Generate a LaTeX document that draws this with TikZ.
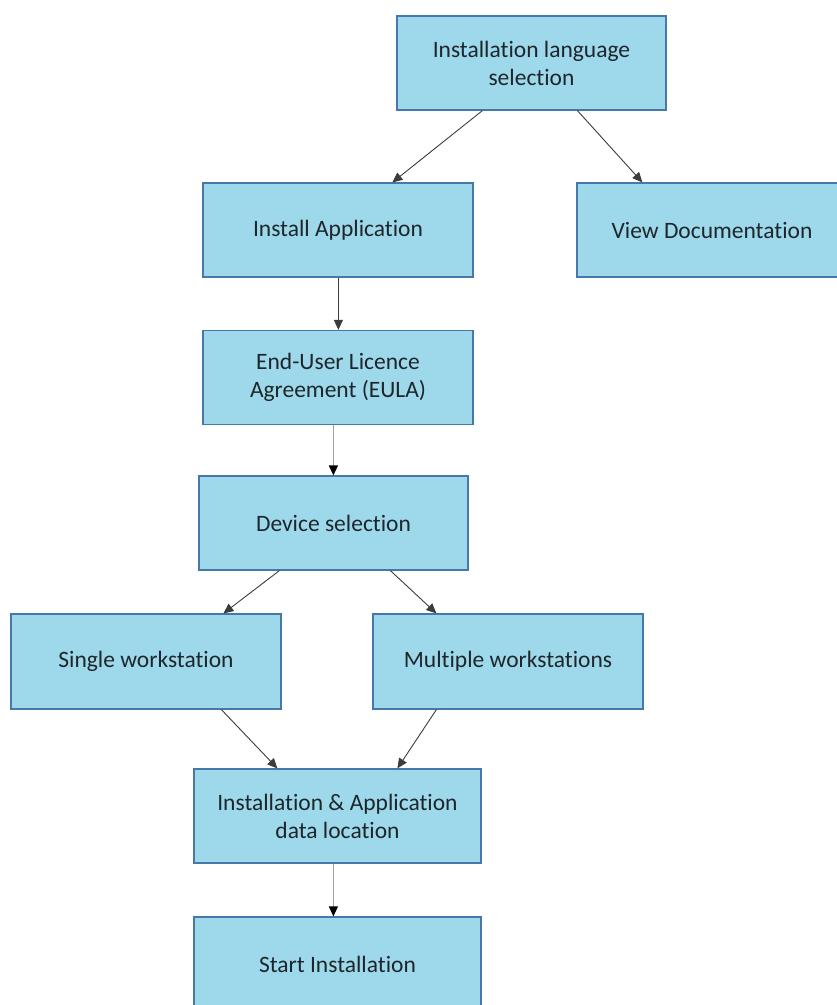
\documentclass[tikz,border=0pt]{standalone}
\usepackage{fontspec}
\setmainfont{Carlito}[Ligatures={NoCommon}]
\usetikzlibrary{arrows.meta,calc}
\definecolor{boxfill}{RGB}{157,217,234}
\definecolor{boxline}{RGB}{70,120,170}
\definecolor{txt}{RGB}{30,38,44}
\definecolor{arr}{RGB}{60,60,60}
\definecolor{arrlight}{RGB}{160,160,160}
\begin{document}
\begin{tikzpicture}[x=1pt,y=-1pt,
  flowbox/.style={draw=boxline,line width=1.2pt,fill=boxfill,text=txt,align=center,
    font=\fontsize{23.5}{28}\selectfont,inner sep=0pt,minimum height=94pt},
  conn/.style={draw=arr,line width=0.9pt,-{Triangle[length=10pt,width=9pt]}},
  connlight/.style={draw=arrlight,line width=1.2pt,-{Triangle[length=10pt,width=9pt,fill=black,color=black]}}]
\useasboundingbox (0,0) rectangle (837,1005);
\clip (0,0) rectangle (837,1005);
\node[flowbox,minimum width=269pt] (lang) at (531.5,63) {Installation language\\selection};
\node[flowbox,minimum width=270pt] (inst) at (338,230) {Install Application};
\node[flowbox,minimum width=270pt] (doc) at (712,230) {View Documentation};
\node[flowbox,minimum width=270pt] (eula) at (338,377.5) {End-User Licence\\Agreement (EULA)};
\node[flowbox,minimum width=269pt] (dev) at (333.5,523) {Device selection};
\node[flowbox,minimum width=270pt,minimum height=95pt] (single) at (146,661.5) {Single workstation};
\node[flowbox,minimum width=270pt,minimum height=95pt] (multi) at (508,661.5) {Multiple workstations};
\node[flowbox,minimum width=287pt] (loc) at (337.5,816) {Installation \& Application\\data location};
\node[flowbox,minimum width=287pt] (start) at (337.5,964) {Start Installation};
\draw[conn] ($(lang.south west)+(86,0)$) -- ($(inst.north west)+(190,0)$);
\draw[conn] ($(lang.south west)+(181,0)$) -- ($(doc.north west)+(66,0)$);
\draw[conn] ($(inst.south west)+(136,0)$) -- ($(eula.north west)+(136,0)$);
\draw[connlight] ($(eula.south west)+(131,0)$) -- ($(dev.north west)+(135,0)$);
\draw[conn] ($(dev.south west)+(81,0)$) -- ($(single.north west)+(213,0)$);
\draw[conn] ($(dev.south west)+(192,0)$) -- ($(multi.north west)+(64,0)$);
\draw[conn] ($(single.south west)+(211,0)$) -- ($(loc.north west)+(84,0)$);
\draw[conn] ($(multi.south west)+(64,0)$) -- ($(loc.north west)+(204,0)$);
\draw[connlight] ($(loc.south west)+(140,0)$) -- ($(start.north west)+(140,0)$);
\end{tikzpicture}
\end{document}
